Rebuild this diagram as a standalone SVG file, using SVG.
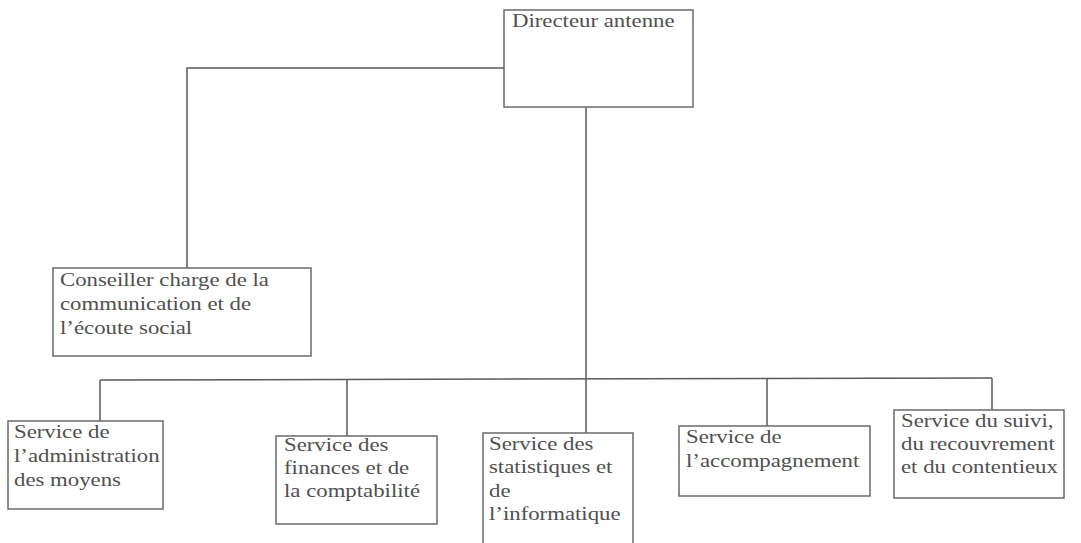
<svg xmlns="http://www.w3.org/2000/svg" width="1081" height="543" viewBox="0 0 1081 543">
<style>
.box{fill:#fff;stroke:#6a6a6a;stroke-width:1.5}
.con{fill:none;stroke:#5a5a5a;stroke-width:1.5}
text{font-family:"Liberation Serif","Times New Roman",serif;font-size:19px;fill:#505050}
</style>
<rect width="1081" height="543" fill="#fff"/>
<g id="connectors">
<polyline class="con" points="504,68 187,68 187,268"/>
<line class="con" x1="586" y1="107" x2="586" y2="433"/>
<line class="con" x1="100" y1="380" x2="992" y2="378"/>
<line class="con" x1="100" y1="380" x2="100" y2="421"/>
<line class="con" x1="347" y1="380" x2="347" y2="436"/>
<line class="con" x1="767" y1="378" x2="767" y2="426"/>
<line class="con" x1="992" y1="378" x2="992" y2="410"/>
</g>
<g id="directeur">
<rect class="box" x="504" y="10" width="189" height="97"/>
<g transform="translate(512 0) scale(1.2 1)"><text x="0" y="27">Directeur antenne</text></g>
</g>
<g id="conseiller">
<rect class="box" x="53" y="268" width="258" height="88"/>
<g transform="translate(60 0) scale(1.2 1)">
<text x="0" y="286">Conseiller charge de la</text>
<text x="0" y="310">communication et de</text>
<text x="0" y="334">l’écoute social</text>
</g>
</g>
<g id="administration">
<rect class="box" x="8" y="421" width="155" height="88"/>
<g transform="translate(14 0) scale(1.2 1)">
<text x="0" y="438">Service de</text>
<text x="0" y="462">l’administration</text>
<text x="0" y="486">des moyens</text>
</g>
</g>
<g id="finances">
<rect class="box" x="276" y="436" width="161" height="88"/>
<g transform="translate(284 0) scale(1.2 1)">
<text x="0" y="451">Service des</text>
<text x="0" y="474">finances et de</text>
<text x="0" y="497">la comptabilité</text>
</g>
</g>
<g id="statistiques">
<rect class="box" x="483" y="433" width="150" height="115"/>
<g transform="translate(489 0) scale(1.2 1)">
<text x="0" y="450">Service des</text>
<text x="0" y="473">statistiques et</text>
<text x="0" y="497">de</text>
<text x="0" y="520">l’informatique</text>
</g>
</g>
<g id="accompagnement">
<rect class="box" x="679" y="426" width="191" height="70"/>
<g transform="translate(686 0) scale(1.2 1)">
<text x="0" y="443">Service de</text>
<text x="0" y="467">l’accompagnement</text>
</g>
</g>
<g id="suivi">
<rect class="box" x="894" y="410" width="170" height="88"/>
<g transform="translate(901 0) scale(1.2 1)">
<text x="0" y="427">Service du suivi,</text>
<text x="0" y="450">du recouvrement</text>
<text x="0" y="473">et du contentieux</text>
</g>
</g>
</svg>
